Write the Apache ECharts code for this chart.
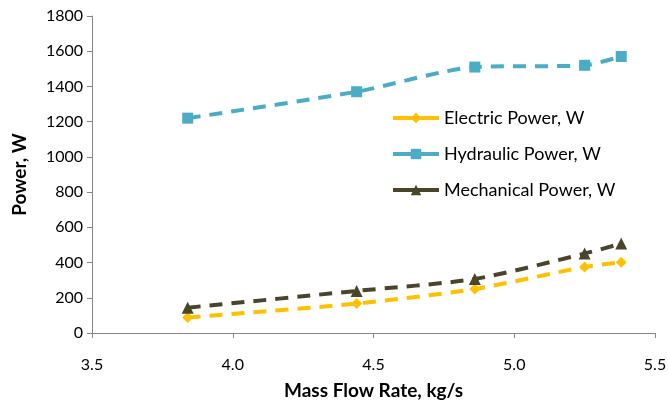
<!DOCTYPE html>
<html lang="en">
<head>
	<meta charset="UTF-8">
	<title>Power vs Mass Flow Rate</title>
</head>
<body style="margin:0">
<div id="chart" style="width:668px;height:400px;"></div>
<script src="https://cdn.jsdelivr.net/npm/echarts@6/dist/echarts.min.js"></script>
<script>
var flowRate = [3.84, 4.44, 4.86, 5.25, 5.38];
var electric = [88, 167, 250, 375, 402];
var hydraulic = [1220, 1370, 1510, 1520, 1570];
var mechanical = [144, 239, 307, 451, 508];
var names = ['Electric Power, W', 'Hydraulic Power, W', 'Mechanical Power, W'];

function pairs(ys) {
	return flowRate.map(function (x, i) { return [x, ys[i]]; });
}

var myChart = echarts.init(document.getElementById('chart'));
var font = 'Lato, "Open Sans", sans-serif';

function line(name, ys, color, symbol, size) {
	return {
		name: name,
		type: 'line',
		data: pairs(ys),
		smooth: 0.25,
		symbol: symbol,
		symbolSize: size,
		itemStyle: { color: color },
		lineStyle: { color: color, width: 4, type: [13, 9] }
	};
}

var option = {
	animation: false,
	textStyle: { fontFamily: font },
	grid: { left: 92, right: 13, top: 16, bottom: 67, outerBoundsMode: 'none' },
	legend: {
		orient: 'vertical',
		left: 386,
		top: 104,
		itemWidth: 46,
		itemHeight: 13,
		itemGap: 18,
		lineStyle: { type: 'solid', width: 4 },
		textStyle: { fontSize: 18, color: '#000', fontFamily: font },
		data: names
	},
	xAxis: {
		type: 'value',
		min: 3.5, max: 5.5, interval: 0.5,
		name: 'Mass Flow Rate, kg/s',
		nameLocation: 'middle',
		nameGap: 48,
		nameTextStyle: { fontSize: 19, fontWeight: 'bold', color: '#000', fontFamily: font },
		axisLine: { lineStyle: { color: '#868686' } },
		axisTick: { show: true, length: 5, lineStyle: { color: '#868686' } },
		axisLabel: { color: '#000', fontSize: 16, margin: 24, formatter: function (v) { return v.toFixed(1); } },
		splitLine: { show: false }
	},
	yAxis: {
		type: 'value',
		min: 0, max: 1800, interval: 200,
		name: 'Power, W',
		nameLocation: 'middle',
		nameGap: 63,
		nameTextStyle: { fontSize: 19, fontWeight: 'bold', color: '#000', fontFamily: font },
		axisLine: { show: true, lineStyle: { color: '#868686' } },
		axisTick: { show: true, length: 5, lineStyle: { color: '#868686' } },
		axisLabel: { color: '#000', fontSize: 16, margin: 9, formatter: function (v) { return String(v); } },
		splitLine: { show: false }
	},
	series: [
		line(names[0], electric, '#FFC000', 'diamond', 11),
		line(names[1], hydraulic, '#4BACC6', 'rect', 11),
		line(names[2], mechanical, '#4A452A', 'triangle', 12)
	]
};
myChart.setOption(option);
</script>
</body>
</html>
